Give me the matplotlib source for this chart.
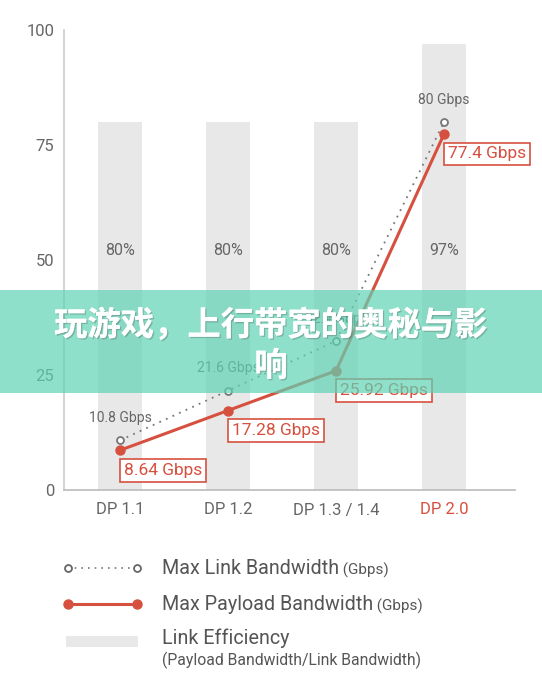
import matplotlib
matplotlib.use("Agg")
import matplotlib.pyplot as plt
from matplotlib.lines import Line2D
from matplotlib.patches import Rectangle
import matplotlib.patheffects as pe

# ---- data ----
categories = ["DP 1.1", "DP 1.2", "DP 1.3 / 1.4", "DP 2.0"]
link_bw = [10.8, 21.6, 32.4, 80]
payload_bw = [8.64, 17.28, 25.92, 77.4]
efficiency = [80, 80, 80, 97]
eff_labels = ["80%", "80%", "80%", "97%"]
yticks = [0, 25, 50, 75, 100]
title = "玩游戏，上行带宽的奥秘与影\n响"

RED = "#d6503f"
GRAY_TXT = "#666666"
BAR = "#e8e8e8"

plt.rcParams['font.family'] = ['Roboto', 'DejaVu Sans']

fig = plt.figure(figsize=(5.42, 6.84), dpi=100)
ax = fig.add_axes([64/542, 1-490/684, (515-64)/542, (490-30)/684])

x = list(range(len(categories)))
ax.bar(x, efficiency, width=0.40, color=BAR, zorder=1)
for xi, lab in zip(x, eff_labels):
    ax.text(xi, 52, lab, ha='center', va='center', fontsize=11.5, color=GRAY_TXT, zorder=2)

ax.plot(x, link_bw, linestyle=(0, (1, 3)), color="#777777", lw=1.3,
        marker='o', ms=5, mfc='white', mec='#777777', mew=1.3, zorder=3)
ax.plot(x, payload_bw, color=RED, lw=2.2, marker='o', ms=6.5, mfc=RED, mec=RED, zorder=4)

for xi, v in zip(x, link_bw):
    ax.annotate(f"{v:g} Gbps", (xi, v), xytext=(0, 11), textcoords='offset points',
                ha='center', va='bottom', fontsize=10, color=GRAY_TXT, zorder=5)
for xi, v in zip(x, payload_bw):
    ax.annotate(f"{v:g} Gbps", (xi, v), xytext=(3, -9), textcoords='offset points',
                ha='left', va='top', fontsize=12.5, color=RED, zorder=6,
                bbox=dict(boxstyle='square,pad=0.22', fc='white', ec=RED, lw=1.2))

ax.set_xlim(-0.5185, 3.657)
ax.set_ylim(0, 100)
ax.set_xticks(x)
ax.set_xticklabels(categories, fontsize=12, color=GRAY_TXT)
ax.get_xticklabels()[-1].set_color(RED)
ax.set_yticks(yticks)
ax.set_yticklabels([str(t) for t in yticks], fontsize=12, color=GRAY_TXT)
ax.tick_params(length=0)
ax.tick_params(axis='x', pad=9)
ax.tick_params(axis='y', pad=7)
for s in ['top', 'right']:
    ax.spines[s].set_visible(False)
ax.spines['left'].set_color('#cccccc')
ax.spines['bottom'].set_color('#bbbbbb')
ax.spines['left'].set_linewidth(1.2)
ax.spines['bottom'].set_linewidth(1.2)

# ---- legend (manual) ----
lx0, lx1, tx = 68/542, 137/542, 162/542
def fy(py):
    return 1 - py/684
LEG = "#555555"
fig.add_artist(Line2D([lx0, lx1], [fy(568)]*2, transform=fig.transFigure,
                      linestyle=(0, (1, 3)), color="#777777", lw=1.2))
fig.add_artist(Line2D([lx0, lx1], [fy(568)]*2, transform=fig.transFigure, lw=0,
                      marker='o', ms=5, mfc='white', mec='#666666', mew=1.3))
fig.add_artist(Line2D([lx0, lx1], [fy(604)]*2, transform=fig.transFigure,
                      color=RED, lw=2.2, marker='o', ms=6.5, mfc=RED, mec=RED))
fig.add_artist(Rectangle((66/542, fy(647)), 72/542, 11/684, transform=fig.transFigure,
                         fc=BAR, ec='none'))
for py, main, sub in [(568, "Max Link Bandwidth", " (Gbps)"),
                      (604, "Max Payload Bandwidth", " (Gbps)")]:
    t = fig.text(tx, fy(py), main, ha='left', va='center', fontsize=14.2, color=LEG)
    fig.canvas.draw()
    ax.annotate(sub, xy=(1, 0), xycoords=t, xytext=(0, 0), textcoords='offset points',
                ha='left', va='bottom', fontsize=11, color=LEG, annotation_clip=False)
fig.text(tx, fy(638), "Link Efficiency", ha='left', va='center', fontsize=14.2, color=LEG)
fig.text(tx, fy(660), "(Payload Bandwidth/Link Bandwidth)", ha='left', va='center',
         fontsize=11.3, color=LEG)

# ---- banner overlay ----
fig.add_artist(Rectangle((0, fy(393)), 1, 103/684, transform=fig.transFigure,
                         fc='#5fd3b5', ec='none', alpha=0.7, zorder=10))
fig.text(0.5, fy(346), title, ha='center', va='center', fontsize=24, fontweight='black',
         color='white', family=['Noto Sans CJK SC', 'DejaVu Sans'], linespacing=1.3, zorder=11,
         path_effects=[pe.withSimplePatchShadow(offset=(1, -1), shadow_rgbFace='#333333', alpha=0.25),
                       pe.Normal()])

fig.savefig("out.png", dpi=100)
